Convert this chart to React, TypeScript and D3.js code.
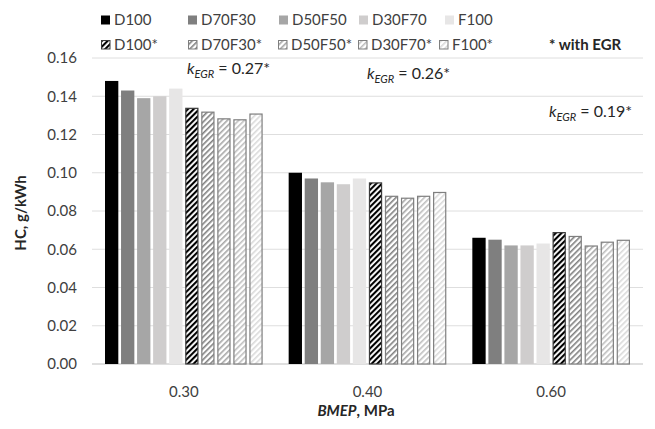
import React from "react";
import * as d3 from "d3";

const categories = ["0.30", "0.40", "0.60"];
const seriesNames = ["D100", "D70F30", "D50F50", "D30F70", "F100", "D100*", "D70F30*", "D50F50*", "D30F70*", "F100*"];
const D100 = [0.148, 0.1, 0.066];
const D70F30 = [0.143, 0.097, 0.065];
const D50F50 = [0.139, 0.095, 0.062];
const D30F70 = [0.14, 0.094, 0.062];
const F100 = [0.144, 0.097, 0.063];
const D100e = [0.134, 0.095, 0.069];
const D70F30e = [0.132, 0.088, 0.067];
const D50F50e = [0.1285, 0.087, 0.062];
const D30F70e = [0.128, 0.088, 0.064];
const F100e = [0.131, 0.09, 0.065];
const seriesValues = [D100, D70F30, D50F50, D30F70, F100, D100e, D70F30e, D50F50e, D30F70e, F100e];
const yTicks = [0, 0.02, 0.04, 0.06, 0.08, 0.1, 0.12, 0.14, 0.16];
const kLabels = ["0.27*", "0.26*", "0.19*"];

const colors = ["#000000", "#7f7f7f", "#a6a6a6", "#cfcdcd", "#e7e6e6", "#000000", "#7f7f7f", "#a6a6a6", "#bfbfbf", "#d9d9d9"];
const hatched = [false, false, false, false, false, true, true, true, true, true];

const W = 655, H = 429;
const FONT = "Lato, 'Open Sans', sans-serif";

export default function App() {
  const x0 = d3.scaleBand<string>().domain(categories).range([92, 643]);
  const x1 = d3.scaleBand<string>().domain(seriesNames).range([13, x0.bandwidth() - 13]).paddingInner(0.17);
  const y = d3.scaleLinear().domain([0, 0.16]).range([364, 58]);

  const fillFor = (i: number) => (hatched[i] ? `url(#hatch${i})` : colors[i]);
  const strokeFor = (i: number) => (hatched[i] ? (i === 5 ? "#3a3a3a" : "#7f7f7f") : "none");

  const legendCols = [101, 188, 279, 359, 445];
  const legendCols2 = [101, 188, 278, 358, 439];
  const kPos = [
    { x: 187, y: 74 },
    { x: 367, y: 79 },
    { x: 549, y: 117 },
  ];

  return (
    <svg width={W} height={H} style={{ position: "absolute", left: 0, top: 0, background: "#fff" }} fontFamily={FONT}>
      <defs>
        {seriesNames.map((s, i) =>
          hatched[i] ? (
            <pattern key={s} id={`hatch${i}`} patternUnits="userSpaceOnUse" width={4} height={4} patternTransform="rotate(45)">
              <rect width={4} height={4} fill="#fff" />
              <rect width={i === 5 ? 2.1 : 1.6} height={4} fill={colors[i]} />
            </pattern>
          ) : null
        )}
      </defs>
      <rect width={W} height={H} fill="#fff" />
      {/* gridlines */}
      {yTicks.map((t) => (
        <line key={t} x1={92} x2={643} y1={y(t)} y2={y(t)} stroke={t === 0 ? "#bfbfbf" : "#dedede"} strokeWidth={1} />
      ))}
      {/* y tick labels */}
      {yTicks.map((t) => (
        <text key={"l" + t} x={77} y={y(t)} dy="0.35em" textAnchor="end" fontSize={15} fill="#404040">
          {d3.format(".2f")(t)}
        </text>
      ))}
      {/* bars */}
      {categories.map((c, ci) => (
        <g key={c} transform={`translate(${x0(c)},0)`}>
          {seriesNames.map((s, si) => {
            const v = seriesValues[si][ci];
            const bx = x1(s)!;
            const bw = x1.bandwidth();
            const top = y(v);
            const isH = hatched[si];
            return (
              <rect
                key={s}
                x={isH ? bx + 0.6 : bx}
                y={isH ? top + 0.6 : top}
                width={isH ? bw - 1.2 : bw}
                height={isH ? y(0) - top - 0.6 : y(0) - top}
                fill={fillFor(si)}
                stroke={strokeFor(si)}
                strokeWidth={isH ? 1.2 : 0}
              />
            );
          })}
        </g>
      ))}
      {/* x labels */}
      {categories.map((c) => (
        <text key={c} x={x0(c)! + x0.bandwidth() / 2} y={392} dy="0.35em" textAnchor="middle" fontSize={15} fill="#404040">
          {c}
        </text>
      ))}
      <text x={356} y={411} dy="0.35em" textAnchor="middle" fontSize={15} fontWeight="bold" fill="#262626">
        <tspan fontStyle="italic">BMEP</tspan>, MPa
      </text>
      <text transform="translate(21,213) rotate(-90)" dy="0.35em" textAnchor="middle" fontSize={15} fontWeight="bold" fill="#262626">
        HC, g/kWh
      </text>
      {/* k annotations */}
      {kLabels.map((k, i) => (
        <text key={k} x={kPos[i].x} y={kPos[i].y} fontSize={16} fill="#262626">
          <tspan fontStyle="italic">k</tspan>
          <tspan fontStyle="italic" fontSize={11} dy={4}>EGR</tspan>
          <tspan dy={-4}> = {k}</tspan>
        </text>
      ))}
      {/* legend */}
      {seriesNames.map((s, i) => {
        const row = i < 5 ? 0 : 1;
        const col = i % 5;
        const lx = row === 0 ? legendCols[col] : legendCols2[col];
        const ly = row === 0 ? 20 : 45;
        const isH = hatched[i];
        return (
          <g key={"lg" + s}>
            <rect
              x={isH ? lx + 0.5 : lx}
              y={ly - 4.5}
              width={isH ? 8.5 : 9}
              height={isH ? 8.5 : 9}
              fill={fillFor(i)}
              stroke={strokeFor(i)}
              strokeWidth={isH ? 1 : 0}
            />
            <text x={lx + 13} y={ly} dy="0.35em" fontSize={15} fill="#404040">
              {s}
            </text>
          </g>
        );
      })}
      <text x={549} y={45} dy="0.35em" fontSize={15} fontWeight="bold" fill="#262626">
        * with EGR
      </text>
    </svg>
  );
}
